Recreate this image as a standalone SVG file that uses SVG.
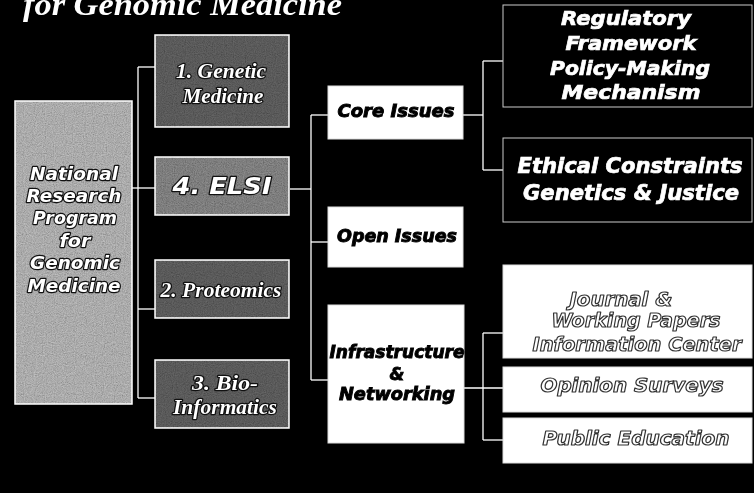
<svg xmlns="http://www.w3.org/2000/svg" width="754" height="493" viewBox="0 0 754 493">
<defs>
<filter id="grain" x="0" y="0" width="100%" height="100%">
<feTurbulence type="fractalNoise" baseFrequency="0.9" numOctaves="2" seed="3"/>
<feColorMatrix type="saturate" values="0"/>
<feComponentTransfer><feFuncA type="linear" slope="0" intercept="1"/></feComponentTransfer>
<feComposite in2="SourceGraphic" operator="in"/>
</filter>
</defs>
<style>
.conn line{stroke:#fff;stroke-width:1.3}
.gbox{stroke:#fff;stroke-width:1.5}
.grain{filter:url(#grain);opacity:.6;mix-blend-mode:overlay}
.wbox{fill:#fff;stroke:#ddd;stroke-width:1}
.kbox{fill:#000;stroke:#ccc;stroke-width:1}
.sans{font-family:"DejaVu Sans",sans-serif;font-weight:bold;font-style:italic;text-anchor:middle}
.serif{font-family:"Liberation Serif",serif;font-weight:bold;font-style:italic;text-anchor:middle}
.emb{fill:#fff;stroke:#111;stroke-width:2.4;paint-order:stroke;stroke-linejoin:round}
.ghost{fill:#fff;stroke:#333;stroke-width:1.2;stroke-linejoin:round}
.heavyk{fill:#000;stroke:#000;stroke-width:.9}
.heavyw{fill:#fff;stroke:#fff;stroke-width:.7}
</style>
<rect x="0" y="0" width="754" height="493" fill="#000"/>
<text x="23" y="15" font-family="Liberation Serif,serif" font-weight="bold" font-style="italic" font-size="31" fill="#fff" textLength="319" lengthAdjust="spacingAndGlyphs">for Genomic Medicine</text>

<g class="conn" id="connectors">
<line x1="132" y1="188" x2="155" y2="188"/>
<line x1="138" y1="67" x2="138" y2="398"/>
<line x1="138" y1="67" x2="155" y2="67"/>
<line x1="138" y1="309" x2="155" y2="309"/>
<line x1="138" y1="398" x2="155" y2="398"/>
<line x1="290" y1="189" x2="311" y2="189"/>
<line x1="311" y1="115" x2="311" y2="380"/>
<line x1="311" y1="115" x2="328" y2="115"/>
<line x1="311" y1="242" x2="328" y2="242"/>
<line x1="311" y1="380" x2="328" y2="380"/>
<line x1="463" y1="115" x2="483" y2="115"/>
<line x1="483" y1="61" x2="483" y2="170"/>
<line x1="483" y1="61" x2="503" y2="61"/>
<line x1="483" y1="170" x2="503" y2="170"/>
<line x1="464" y1="388" x2="503" y2="388"/>
<line x1="483" y1="333" x2="483" y2="440"/>
<line x1="483" y1="333" x2="503" y2="333"/>
<line x1="483" y1="440" x2="503" y2="440"/>
</g>

<g id="national">
<rect x="15" y="101" width="117" height="303" fill="#8a8a8a" class="gbox"/>
<rect x="15" y="101" width="117" height="303" class="grain"/>
<g class="sans emb" font-size="18">
<text x="74" y="180" textLength="88" lengthAdjust="spacingAndGlyphs">National</text>
<text x="74" y="202" textLength="95" lengthAdjust="spacingAndGlyphs">Research</text>
<text x="75" y="224" textLength="84" lengthAdjust="spacingAndGlyphs">Program</text>
<text x="75" y="247" textLength="31" lengthAdjust="spacingAndGlyphs">for</text>
<text x="75" y="269" textLength="90" lengthAdjust="spacingAndGlyphs">Genomic</text>
<text x="74" y="292" textLength="93" lengthAdjust="spacingAndGlyphs">Medicine</text>
</g>
</g>

<g id="genetic">
<rect x="155" y="35" width="134" height="92" fill="#464646" class="gbox"/>
<rect x="155" y="35" width="134" height="92" class="grain"/>
<g class="serif emb" font-size="20">
<text x="221" y="78" textLength="90" lengthAdjust="spacingAndGlyphs">1. Genetic</text>
<text x="223" y="103" textLength="81" lengthAdjust="spacingAndGlyphs">Medicine</text>
</g>
</g>

<g id="elsi">
<rect x="155" y="157" width="134" height="58" fill="#626262" class="gbox"/>
<rect x="155" y="157" width="134" height="58" class="grain"/>
<text x="222" y="194" class="sans emb" font-size="23" textLength="99" lengthAdjust="spacingAndGlyphs">4. ELSI</text>
</g>

<g id="proteomics">
<rect x="155" y="260" width="134" height="58" fill="#464646" class="gbox"/>
<rect x="155" y="260" width="134" height="58" class="grain"/>
<text x="221" y="297" class="serif emb" font-size="20" textLength="121" lengthAdjust="spacingAndGlyphs">2. Proteomics</text>
</g>

<g id="bioinformatics">
<rect x="155" y="360" width="134" height="68" fill="#464646" class="gbox"/>
<rect x="155" y="360" width="134" height="68" class="grain"/>
<g class="serif emb" font-size="20">
<text x="225" y="390" textLength="66" lengthAdjust="spacingAndGlyphs">3. Bio-</text>
<text x="225" y="414" textLength="104" lengthAdjust="spacingAndGlyphs">Informatics</text>
</g>
</g>

<g id="core">
<rect x="328" y="86" width="135" height="53" class="wbox"/>
<text x="396" y="117" class="sans heavyk" font-size="17" textLength="117" lengthAdjust="spacingAndGlyphs">Core Issues</text>
</g>

<g id="open">
<rect x="328" y="207" width="135" height="60" class="wbox"/>
<text x="397" y="242" class="sans heavyk" font-size="17" textLength="120" lengthAdjust="spacingAndGlyphs">Open Issues</text>
</g>

<g id="infra">
<rect x="328" y="305" width="136" height="138" class="wbox"/>
<g class="sans heavyk" font-size="17">
<text x="397" y="358" textLength="135" lengthAdjust="spacingAndGlyphs">Infrastructure</text>
<text x="397" y="380">&amp;</text>
<text x="397" y="400" textLength="116" lengthAdjust="spacingAndGlyphs">Networking</text>
</g>
</g>

<g id="regulatory">
<rect x="503" y="5" width="249" height="102" class="kbox"/>
<g class="sans heavyw" font-size="20">
<text x="626" y="25" textLength="130" lengthAdjust="spacingAndGlyphs">Regulatory</text>
<text x="631" y="50" textLength="131" lengthAdjust="spacingAndGlyphs">Framework</text>
<text x="630" y="75" textLength="160" lengthAdjust="spacingAndGlyphs">Policy-Making</text>
<text x="631" y="99" textLength="139" lengthAdjust="spacingAndGlyphs">Mechanism</text>
</g>
</g>

<g id="ethical">
<rect x="503" y="138" width="249" height="84" class="kbox"/>
<g class="sans heavyw" font-size="21">
<text x="630" y="173" textLength="225" lengthAdjust="spacingAndGlyphs">Ethical Constraints</text>
<text x="631" y="200" textLength="216" lengthAdjust="spacingAndGlyphs">Genetics &amp; Justice</text>
</g>
</g>

<g id="journal">
<rect x="503" y="265" width="249" height="93" class="wbox"/>
<g class="sans ghost" font-size="19">
<text x="621" y="306" textLength="103" lengthAdjust="spacingAndGlyphs">Journal &amp;</text>
<text x="636" y="327" textLength="169" lengthAdjust="spacingAndGlyphs">Working Papers</text>
<text x="637" y="351" textLength="209" lengthAdjust="spacingAndGlyphs">Information Center</text>
</g>
</g>

<g id="opinion">
<rect x="503" y="367" width="249" height="45" class="wbox"/>
<text x="632" y="392" class="sans ghost" font-size="19" textLength="183" lengthAdjust="spacingAndGlyphs">Opinion Surveys</text>
</g>

<g id="education">
<rect x="503" y="418" width="249" height="45" class="wbox"/>
<text x="636" y="445" class="sans ghost" font-size="19" textLength="187" lengthAdjust="spacingAndGlyphs">Public Education</text>
</g>
</svg>
